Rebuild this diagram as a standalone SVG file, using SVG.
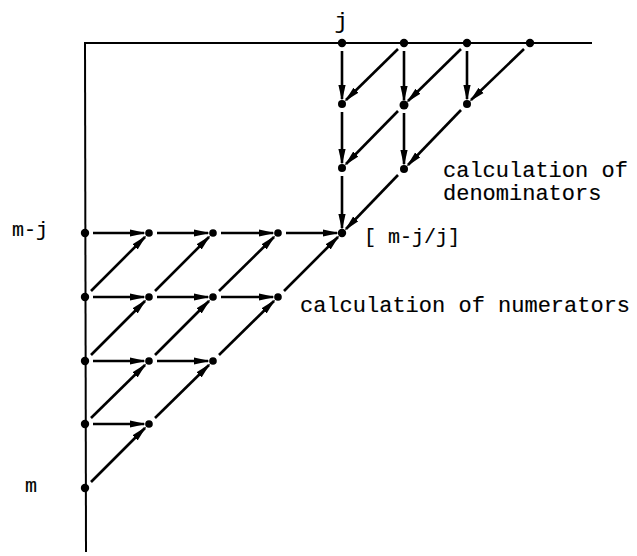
<svg xmlns="http://www.w3.org/2000/svg" width="637" height="556" viewBox="0 0 637 556">
<style>
.ax{stroke:#000;stroke-width:2;fill:none}
.nd{fill:#000}
.ar{stroke:#000;stroke-width:2.6;fill:none;marker-end:url(#ah)}
text{font-family:"Liberation Mono","DejaVu Sans Mono",monospace;fill:#000;stroke:#000;stroke-width:0.15}
.big{font-size:22px}
.sm{font-size:20px}
</style>
<defs>
<marker id="ah" markerUnits="userSpaceOnUse" markerWidth="17" markerHeight="9" refX="14" refY="4" orient="auto">
<path d="M0,0.4 L16,4 L0,7.6 Z" fill="#000"/>
</marker>
</defs>
<rect width="637" height="556" fill="#fff"/>
<g id="axes">
<line class="ax" x1="84" y1="43" x2="592" y2="43"/>
<line class="ax" x1="85" y1="43" x2="86" y2="552"/>
</g>
<g id="connectors">
<line class="ar" x1="93" y1="233" x2="144" y2="233"/>
<line class="ar" x1="157" y1="233" x2="208" y2="233"/>
<line class="ar" x1="221" y1="233" x2="273" y2="233"/>
<line class="ar" x1="286" y1="233" x2="337" y2="233"/>
<line class="ar" x1="93" y1="297" x2="144" y2="297"/>
<line class="ar" x1="157" y1="297" x2="208" y2="297"/>
<line class="ar" x1="221" y1="297" x2="273" y2="297"/>
<line class="ar" x1="93" y1="361" x2="144" y2="361"/>
<line class="ar" x1="157" y1="361" x2="208" y2="361"/>
<line class="ar" x1="93" y1="424" x2="144" y2="424"/>
<line class="ar" x1="91" y1="482" x2="145" y2="428"/>
<line class="ar" x1="155" y1="418" x2="209" y2="365"/>
<line class="ar" x1="219" y1="355" x2="274" y2="301"/>
<line class="ar" x1="284" y1="291" x2="338" y2="237"/>
<line class="ar" x1="91" y1="418" x2="145" y2="365"/>
<line class="ar" x1="155" y1="355" x2="209" y2="301"/>
<line class="ar" x1="219" y1="291" x2="274" y2="237"/>
<line class="ar" x1="91" y1="355" x2="145" y2="301"/>
<line class="ar" x1="155" y1="291" x2="209" y2="237"/>
<line class="ar" x1="91" y1="291" x2="145" y2="237"/>
<line class="ar" x1="342" y1="51" x2="342" y2="99"/>
<line class="ar" x1="342" y1="112" x2="342" y2="163"/>
<line class="ar" x1="342" y1="176" x2="342" y2="228"/>
<line class="ar" x1="404" y1="51" x2="404" y2="100"/>
<line class="ar" x1="404" y1="113" x2="404" y2="164"/>
<line class="ar" x1="467" y1="51" x2="467" y2="99"/>
<line class="ar" x1="398" y1="49" x2="346" y2="100"/>
<line class="ar" x1="461" y1="49" x2="408" y2="101"/>
<line class="ar" x1="524" y1="49" x2="471" y2="100"/>
<line class="ar" x1="398" y1="111" x2="346" y2="164"/>
<line class="ar" x1="461" y1="110" x2="408" y2="165"/>
<line class="ar" x1="398" y1="175" x2="346" y2="229"/>
</g>
<g id="nodes">
<g id="A0"><circle class="nd" cx="85" cy="233" r="4.2"/></g>
<g id="A1"><circle class="nd" cx="149" cy="233" r="3.8"/></g>
<g id="A2"><circle class="nd" cx="213" cy="233" r="3.8"/></g>
<g id="A3"><circle class="nd" cx="278" cy="233" r="3.8"/></g>
<g id="A4"><circle class="nd" cx="342" cy="233" r="4.2"/></g>
<g id="B0"><circle class="nd" cx="85" cy="297" r="4.2"/></g>
<g id="B1"><circle class="nd" cx="149" cy="297" r="3.8"/></g>
<g id="B2"><circle class="nd" cx="213" cy="297" r="3.8"/></g>
<g id="B3"><circle class="nd" cx="278" cy="297" r="3.8"/></g>
<g id="C0"><circle class="nd" cx="85" cy="361" r="4.2"/></g>
<g id="C1"><circle class="nd" cx="149" cy="361" r="3.8"/></g>
<g id="C2"><circle class="nd" cx="213" cy="361" r="3.8"/></g>
<g id="D0"><circle class="nd" cx="85" cy="424" r="4.2"/></g>
<g id="D1"><circle class="nd" cx="149" cy="424" r="3.8"/></g>
<g id="E0"><circle class="nd" cx="85" cy="488" r="4.2"/></g>
<g id="T0"><circle class="nd" cx="342" cy="43" r="4.2"/></g>
<g id="T1"><circle class="nd" cx="404" cy="43" r="4.2"/></g>
<g id="T2"><circle class="nd" cx="467" cy="43" r="4.2"/></g>
<g id="T3"><circle class="nd" cx="530" cy="43" r="4.2"/></g>
<g id="S0"><circle class="nd" cx="342" cy="104" r="4"/></g>
<g id="S1"><circle class="nd" cx="404" cy="105" r="4.5"/></g>
<g id="S2"><circle class="nd" cx="467" cy="104" r="4"/></g>
<g id="U0"><circle class="nd" cx="342" cy="168" r="4"/></g>
<g id="U1"><circle class="nd" cx="404" cy="169" r="4"/></g>
</g>
<g id="labels">
<text class="big" x="341" y="28" text-anchor="middle">j</text>
<text class="sm" x="12" y="236">m-j</text>
<text class="sm" x="25" y="492">m</text>
<text class="sm" x="364" y="243">[ m-j/j]</text>
<text class="big" x="443" y="177">calculation of</text>
<text class="big" x="443" y="200">denominators</text>
<text class="big" x="300" y="312">calculation of numerators</text>
</g>
</svg>
